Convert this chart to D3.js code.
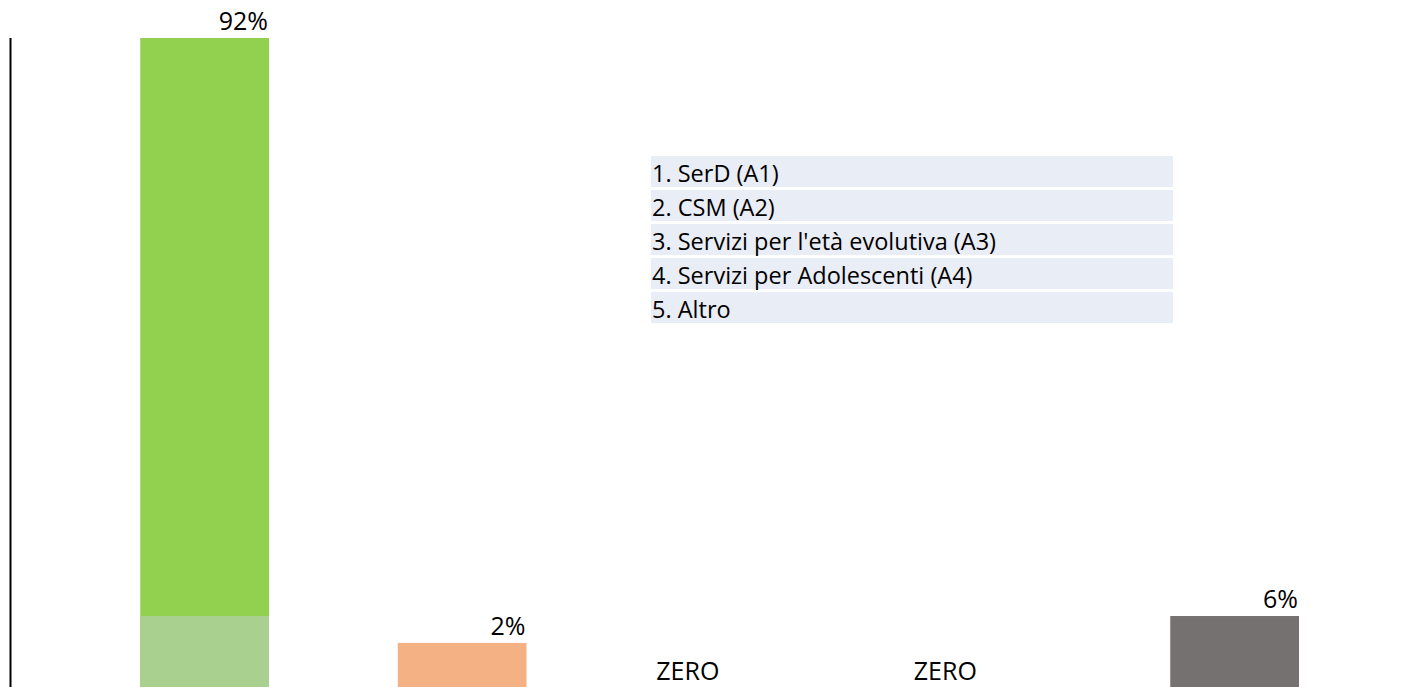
<!DOCTYPE html>
<html>
<head>
<meta charset="utf-8">
<script src="https://cdn.jsdelivr.net/npm/d3@7"></script>
<style>
  html, body { margin: 0; padding: 0; background: #fff; overflow: hidden; }
  svg { display: block; font-family: 'Open Sans', 'Noto Sans', sans-serif; }
</style>
</head>
<body>
<svg id="chart"></svg>
<script>
// data
const categories = ['A1', 'A2', 'A3', 'A4', 'Altro'];
const values = [92, 2, 0, 0, 6];
const valueLabels = ['92%', '2%', 'ZERO', 'ZERO', '6%'];
const barColors = ['#92d050', '#f4b183', '#92d050', '#92d050', '#767171'];
// lighter base segment on the first bar
const baseValues = [6, 0, 0, 0, 0];
const baseColor = '#a9d08e';
const legendItems = [
    '1. SerD (A1)',
    '2. CSM (A2)',
    "3. Servizi per l'età evolutiva (A3)",
    '4. Servizi per Adolescenti (A4)',
    '5. Altro'
];

const WIDTH = 1413;
const HEIGHT = 687;
const AXIS_X = 10;

const svg = d3.select('#chart')
    .attr('width', WIDTH)
    .attr('height', HEIGHT);

// scales (chart runs off the bottom/right edge of the picture)
const x = d3.scaleBand()
    .domain(categories)
    .range([AXIS_X + 1.5, AXIS_X + 1.5 + 5.5 * 257.5])
    .paddingInner(0.5)
    .paddingOuter(0.5);

const y = d3.scaleLinear()
    .domain([-4.56, 92])
    .range([HEIGHT, 38]);

const data = categories.map((c, i) => ({
    cat: c, value: values[i], base: baseValues[i], label: valueLabels[i], color: barColors[i]
}));

// bars
const bars = svg.append('g').attr('id', 'bars');

bars.selectAll('rect.bar')
    .data(data.filter(d => d.value > 0))
    .enter()
    .append('rect')
    .attr('class', 'bar')
    .attr('x', d => x(d.cat))
    .attr('width', x.bandwidth())
    .attr('y', d => y(d.value))
    .attr('height', d => y(y.domain()[0]) - y(d.value))
    .attr('fill', d => d.color);

bars.selectAll('rect.base')
    .data(data.filter(d => d.base > 0))
    .enter()
    .append('rect')
    .attr('class', 'base')
    .attr('x', d => x(d.cat))
    .attr('width', x.bandwidth())
    .attr('y', d => y(d.base))
    .attr('height', d => y(y.domain()[0]) - y(d.base))
    .attr('fill', baseColor);

// value labels
svg.append('g').attr('id', 'labels')
    .selectAll('text')
    .data(data)
    .enter()
    .append('text')
    .attr('x', d => d.value > 0 ? x(d.cat) + x.bandwidth() - 1 : x(d.cat) + 1)
    .attr('y', d => d.value > 0 ? y(d.value) - 8 : HEIGHT - 7)
    .attr('text-anchor', d => d.value > 0 ? 'end' : 'start')
    .attr('font-size', 25)
    .attr('fill', '#000')
    .text(d => d.label);

// left axis line
svg.append('line')
    .attr('x1', AXIS_X + 0.5)
    .attr('x2', AXIS_X + 0.5)
    .attr('y1', y(92))
    .attr('y2', HEIGHT)
    .attr('stroke', '#000')
    .attr('stroke-width', 2);

// legend table
const legend = svg.append('g')
    .attr('id', 'legend')
    .attr('transform', 'translate(651,156)');

const rows = legend.selectAll('g.row')
    .data(legendItems)
    .enter()
    .append('g')
    .attr('class', 'row')
    .attr('transform', (d, i) => `translate(0,${i * 34})`);

rows.append('rect')
    .attr('width', 522)
    .attr('height', 31)
    .attr('fill', '#e9edf5');

rows.append('text')
    .attr('x', 1)
    .attr('y', 17)
    .attr('dominant-baseline', 'central')
    .attr('font-size', 23.5)
    .attr('fill', '#000')
    .text(d => d);
</script>
</body>
</html>
